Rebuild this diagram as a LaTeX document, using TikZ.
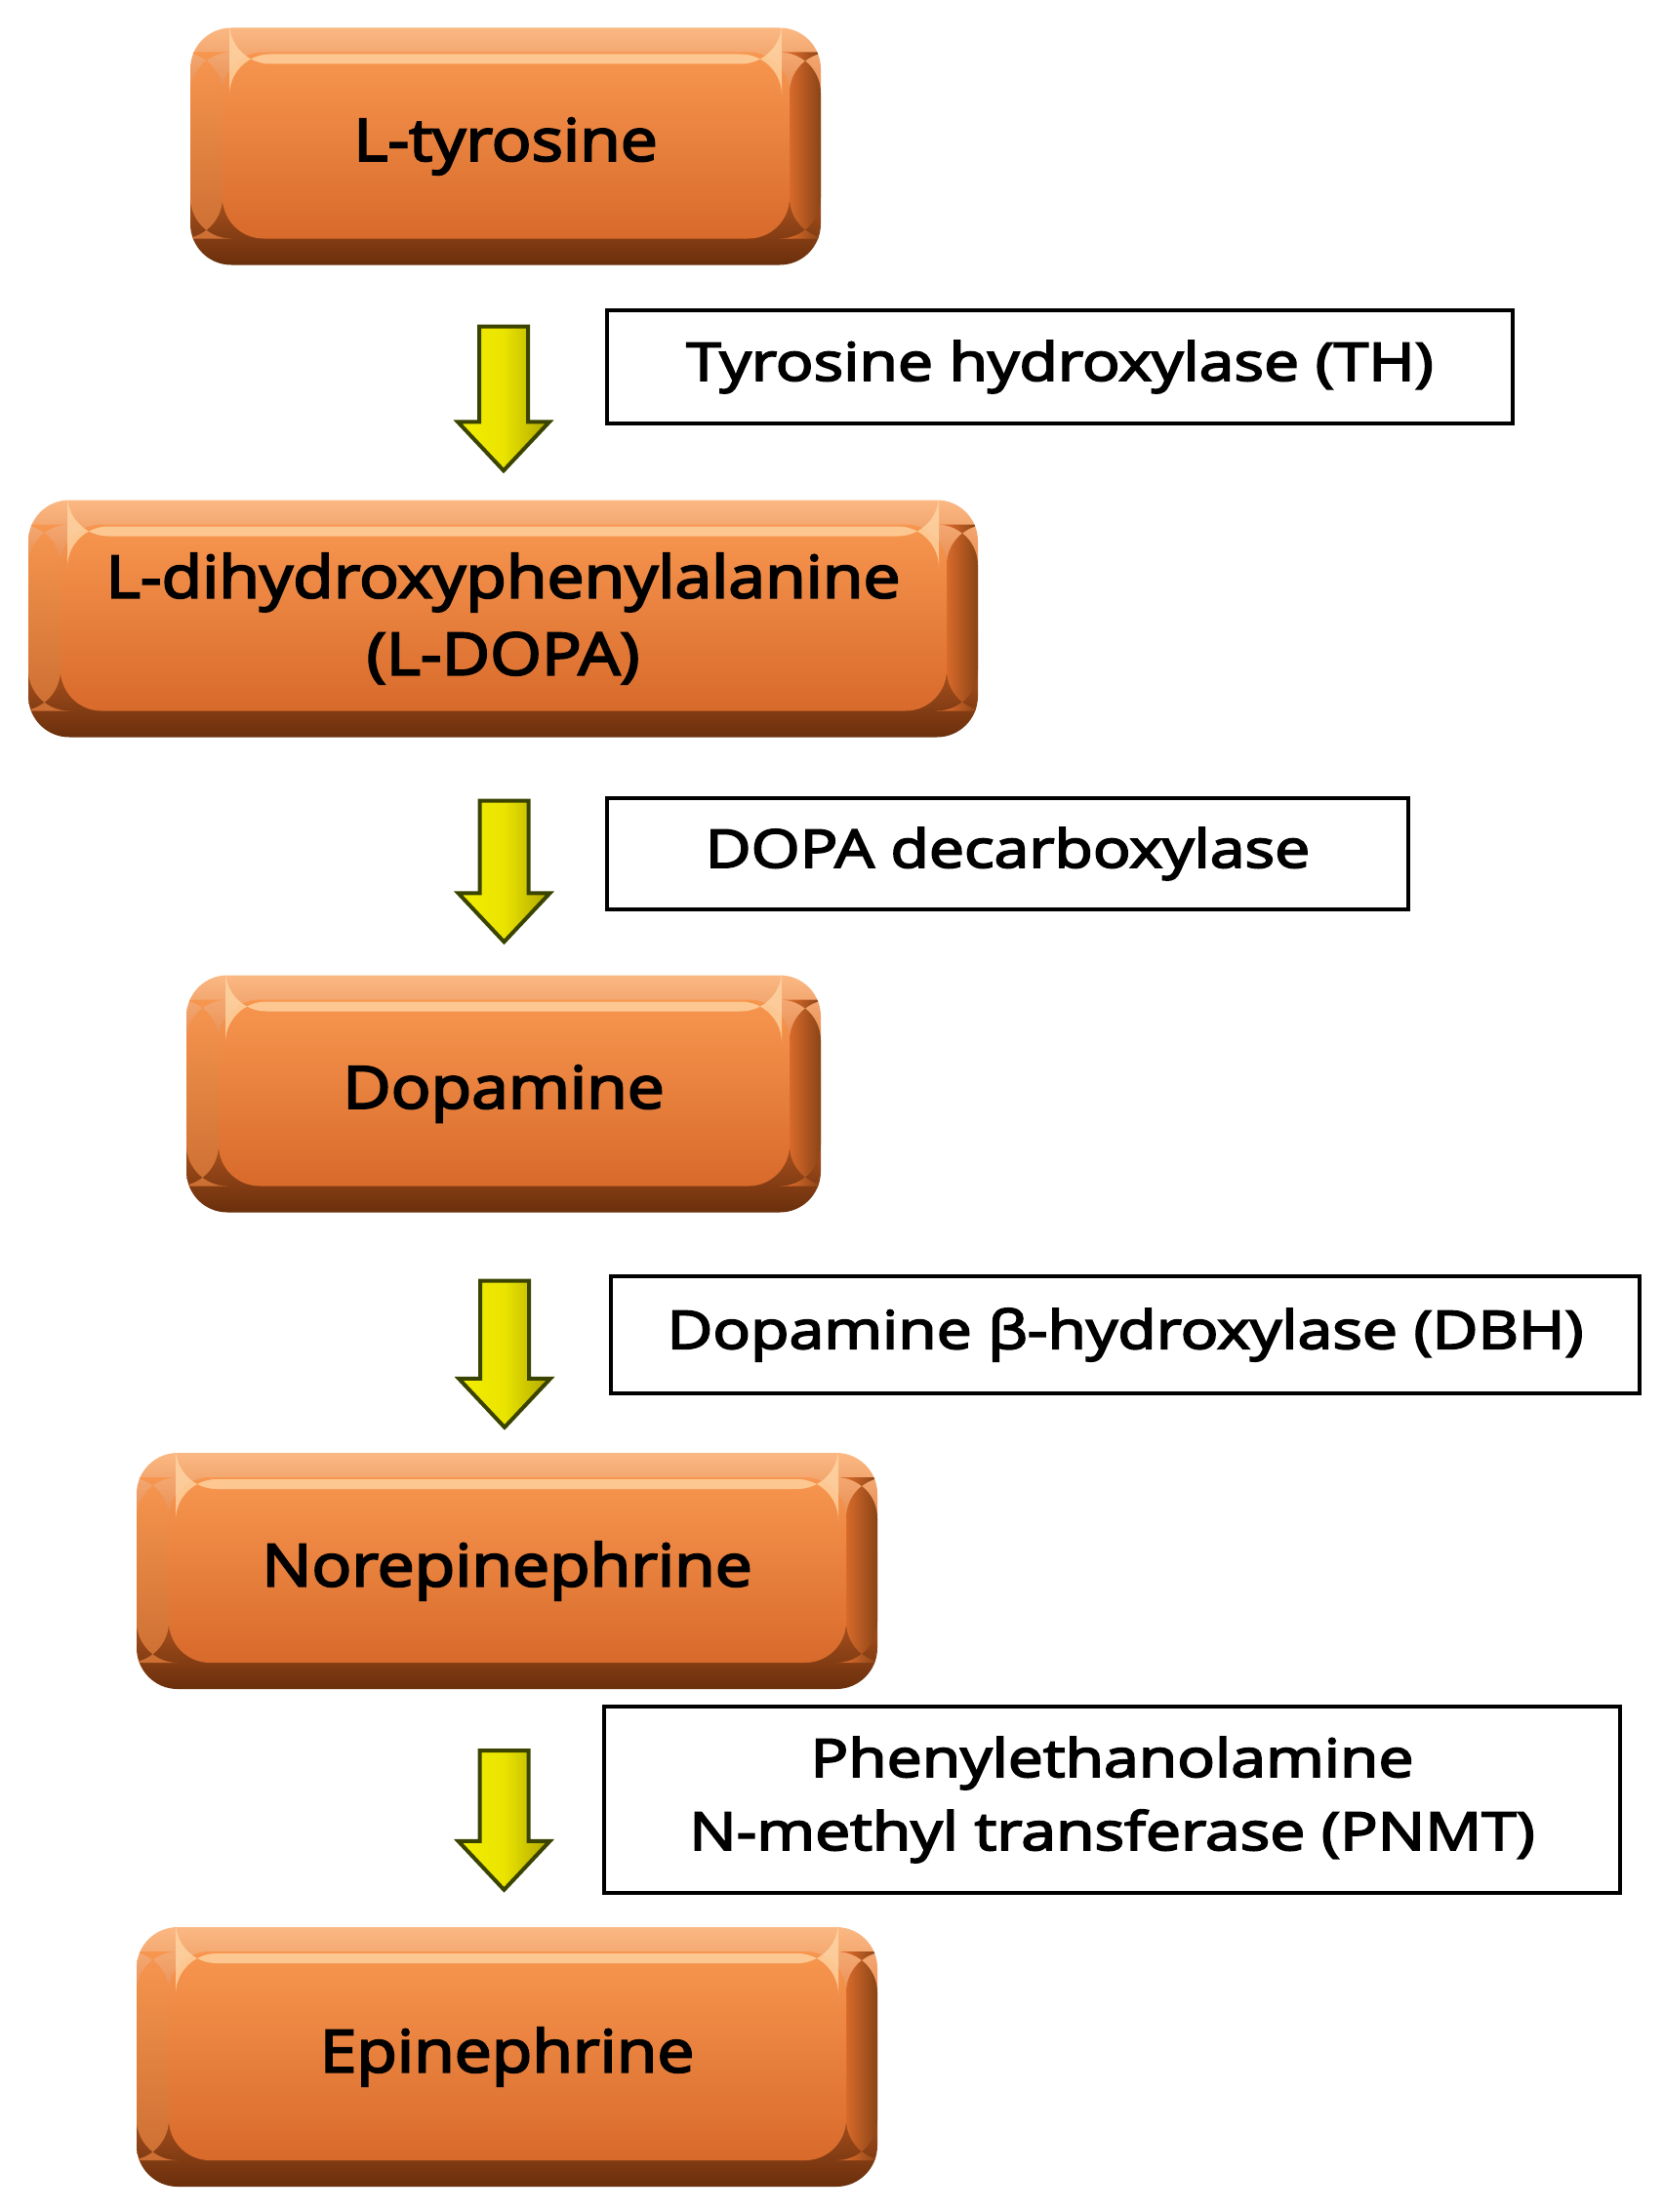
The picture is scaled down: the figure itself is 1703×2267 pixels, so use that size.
\documentclass[tikz,border=0pt]{standalone}
\usepackage{fontspec}
\usetikzlibrary{calc}
\newfontfamily\labfont{Open Sans}[FakeBold=3.5, FakeStretch=1.13]
\newfontfamily\enzfont{Open Sans}[FakeBold=3.5, FakeStretch=1.19]
\definecolor{facetop}{HTML}{F7964F}
\definecolor{facebot}{HTML}{D86A2B}
\definecolor{bevtop}{HTML}{FBB883}
\definecolor{bevbot}{HTML}{6A2F0C}
\definecolor{bevleft}{HTML}{E57F3C}
\definecolor{bevright}{HTML}{8A4416}
\definecolor{hilite}{HTML}{FFD9A8}
\definecolor{arrline}{HTML}{3A4300}
\definecolor{arrlight}{HTML}{F4EE00}
\definecolor{arrdark}{HTML}{AFA700}
\tikzset{
  chembox/.style={rounded corners=42pt, inner sep=0pt,
    font=\labfont\fontsize{60}{79}\selectfont, align=center,
    path picture={
      \shade[top color=bevtop, bottom color=bevbot, middle color=facebot]
        (path picture bounding box.north west) rectangle (path picture bounding box.south east);
      \shade[top color=facetop, bottom color=bevleft!80!bevbot] ($(path picture bounding box.north west)+(0,25)$) rectangle ($(path picture bounding box.south west)+(33,-27)$);
      \shade[left color=facebot, right color=bevright] ($(path picture bounding box.north east)+(-32,25)$) rectangle ($(path picture bounding box.south east)+(0,-27)$);
      \shade[top color=facetop, bottom color=facebot]
        ($(path picture bounding box.north west)+(33,25)$) rectangle ($(path picture bounding box.south east)+(-32,-27)$);
      \fill[hilite, opacity=0.75] ($(path picture bounding box.north west)+(40,27)$) rectangle ($(path picture bounding box.north east)+(-40,37)$);
    }},
  enzbox/.style={draw=black, line width=4pt, fill=white, inner sep=0pt,
    font=\enzfont\fontsize{54}{75}\selectfont, align=center},
  fatarr/.style={draw=arrline, line width=4pt, line join=miter,
    left color=arrlight, right color=arrdark, middle color=arrlight!85!arrdark}
}
\newcommand\fatarrow[2]{%
  \path[fatarr] ($(#1)+(-25,0)$) -- ($(#1)+(25,0)$) -- ($(#2)+(25,-50)$) -- ($(#2)+(47,-50)$)
    -- (#2) -- ($(#2)+(-47,-50)$) -- ($(#2)+(-25,-50)$) -- cycle;}
\begin{document}
\begin{tikzpicture}[x=1pt, y=-1pt]
\useasboundingbox (0,0) rectangle (1703,2267);
% substances
\node[chembox, minimum width=646pt, minimum height=243pt] (ltyr) at (518,150) {L-tyrosine};
\node[chembox, minimum width=973pt, minimum height=243pt] (ldopa) at (515.5,634) {L-dihydroxyphenylalanine\\(L-DOPA)};
\node[chembox, minimum width=650pt, minimum height=243pt] (dopa) at (516,1121) {Dopamine};
\node[chembox, minimum width=759pt, minimum height=242pt] (norepi) at (519.5,1610) {Norepinephrine};
\node[chembox, minimum width=759pt, minimum height=266pt] (epi) at (519.5,2108) {Epinephrine};
% enzymes
\node[enzbox, minimum width=928pt, minimum height=116pt] (th) at (1086,376) {Tyrosine hydroxylase (TH)};
\node[enzbox, minimum width=821pt, minimum height=114pt] (ddc) at (1032.5,875) {DOPA decarboxylase};
\node[enzbox, minimum width=1054pt, minimum height=120pt] (dbh) at (1153,1368) {Dopamine β-hydroxylase (DBH)};
\node[enzbox, minimum width=1041pt, minimum height=191pt] (pnmt) at (1139.5,1844.5) {Phenylethanolamine\\N-methyl transferase (PNMT)};
% arrows
\coordinate (s1) at ($(ltyr.south)+(-2,63)$);
\coordinate (e1) at (s1 |- {$(ldopa.north)+(0,-30)$});
\coordinate (s2) at ($(ldopa.south)+(1,65)$);
\coordinate (e2) at (s2 |- {$(dopa.north)+(0,-34)$});
\coordinate (s3) at ($(dopa.south)+(1,70)$);
\coordinate (e3) at (s3 |- {$(norepi.north)+(0,-26)$});
\coordinate (s4) at ($(norepi.south)+(-3,63)$);
\coordinate (e4) at (s4 |- {$(epi.north)+(0,-38)$});
\fatarrow{s1}{e1}
\fatarrow{s2}{e2}
\fatarrow{s3}{e3}
\fatarrow{s4}{e4}
\end{tikzpicture}
\end{document}
